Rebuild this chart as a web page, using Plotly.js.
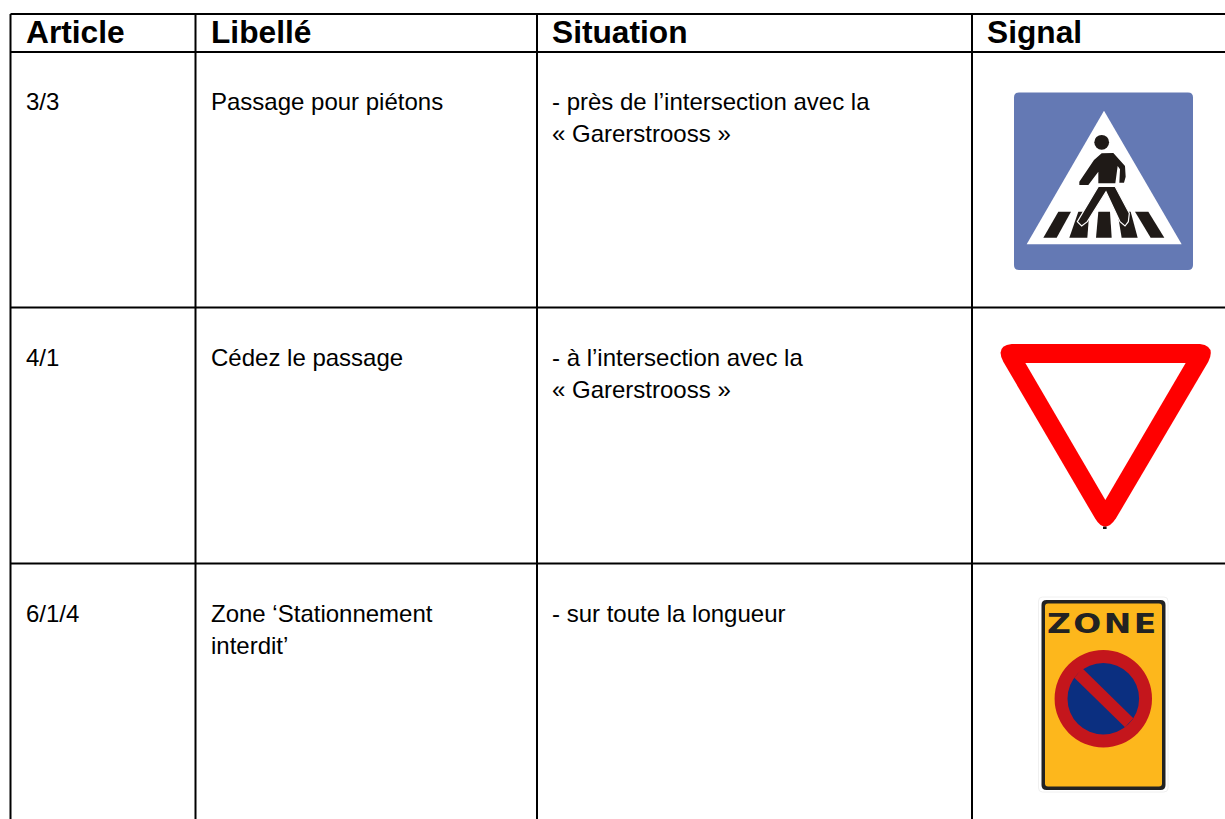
<!DOCTYPE html>
<html>
<head>
<meta charset="utf-8">
<script src="https://cdn.plot.ly/plotly-3.0.1.min.js"></script>
<style>
html,body{margin:0;padding:0;background:#fff;overflow:hidden}
#chart{width:1225px;height:819px}
</style>
</head>
<body>
<div id="chart"></div>
<script>
// Table content
const headers = ["Article", "Libellé", "Situation", "Signal"];
const articles = ["3/3", "4/1", "6/1/4"];
const libelles = [["Passage pour piétons"], ["Cédez le passage"], ["Zone ‘Stationnement", "interdit’"]];
const situations = [["- près de l’intersection avec la", "« Garerstrooss »"], ["- à l’intersection avec la", "« Garerstrooss »"], ["- sur toute la longueur"]];
const signWord = "ZONE";

// Layout of the table
const W = 1225, H = 819;
const colLines = [10.5, 195.5, 537, 972];
const rowLines = [14, 52, 307.5, 563.5];
const textX = [26, 211, 552, 987];
const firstLineY = [101, 357, 613];
const lineGap = 32;

const shapes = [];
const annotations = [];

function addLine(x0, y0, x1, y1) {
  shapes.push({type: "line", xref: "x", yref: "y", x0, y0, x1, y1, line: {color: "#000", width: 2}});
}
function addPath(path, fill, stroke, sw) {
  shapes.push({type: "path", xref: "x", yref: "y", path, fillcolor: fill, line: {color: stroke || fill, width: sw === undefined ? 0 : sw}});
}
function addDisc(cx, cy, r, fill) {
  shapes.push({type: "circle", xref: "x", yref: "y", x0: cx - r, x1: cx + r, y0: cy - r, y1: cy + r, fillcolor: fill, line: {width: 0}});
}
function roundRect(x0, y0, x1, y1, r) {
  return `M${x0 + r},${y0} L${x1 - r},${y0} Q${x1},${y0} ${x1},${y0 + r} L${x1},${y1 - r} Q${x1},${y1} ${x1 - r},${y1} L${x0 + r},${y1} Q${x0},${y1} ${x0},${y1 - r} L${x0},${y0 + r} Q${x0},${y0} ${x0 + r},${y0} Z`;
}
// Sign outlines, measured in a local 3x frame with an origin
function poly(ox, oy, pts) {
  return "M" + pts.map(p => `${ox + p[0] / 3},${oy + p[1] / 3}`).join(" L") + " Z";
}
function addText(x, y, text, size, bold) {
  annotations.push({
    xref: "x", yref: "y", x, y, text, showarrow: false, xanchor: "left", yanchor: "middle",
    borderpad: 0, borderwidth: 0,
    font: {family: "Liberation Sans", size, color: "#000", weight: bold ? 700 : 400}
  });
}

// Grid
rowLines.forEach(y => addLine(colLines[0], y, W, y));
colLines.forEach(x => addLine(x, rowLines[0], x, H));

// Text
headers.forEach((h, i) => addText(textX[i], 32, "<b>" + h + "</b>", 31.7, true));
articles.forEach((a, r) => addText(textX[0], firstLineY[r], a, 24));
libelles.forEach((ls, r) => ls.forEach((t, k) => addText(textX[1], firstLineY[r] + k * lineGap, t, 24)));
situations.forEach((ls, r) => ls.forEach((t, k) => addText(textX[2], firstLineY[r] + k * lineGap, t, 24)));

// Sign 1: pedestrian crossing
addPath(roundRect(1014, 92.5, 1193, 270, 5), "#6479b4");
addPath(poly(1000, 80, [[312, 92], [545, 493], [80, 493]]), "#ffffff");
const ink = "#1f1a17";
[
  [[175, 395], [213, 395], [170, 473], [130, 473]],
  [[235, 395], [268, 395], [262, 473], [208, 473]],
  [[295, 395], [330, 395], [335, 473], [288, 473]],
  [[352, 395], [392, 395], [413, 473], [365, 473]],
  [[405, 395], [445, 395], [493, 473], [452, 473]]
].forEach(s => addPath(poly(1000, 80, s), ink));
addPath(poly(1000, 80, [[295, 319], [345, 319], [388, 400], [385, 425], [375, 438], [360, 425], [318, 335], [262, 425], [245, 438], [232, 425]]), ink, "#ffffff", 1.2);
addDisc(1101.7, 142.3, 7.4, ink);
addPath(poly(1070, 130, [[95, 70], [130, 69], [165, 108], [167, 140], [162, 158], [148, 158], [150, 118], [143, 108], [136, 160], [85, 160], [85, 125], [55, 165], [28, 165], [28, 155], [72, 90]]), ink);

// Sign 2: give way
addPath(`M1011.7,344 L1200,344 Q1216,346 1208.3,361.7 L1116,518.3 Q1105,535 1095,518.3 L1003.3,361.7 Q995,346 1011.7,344 Z`, "#ff0000");
addPath(poly(990, 330, [[106, 99], [587, 99], [346, 510]]), "#ffffff");
addPath("M1103,526.6 L1106.6,526.6 L1106.6,529 L1103,529 Z", "#111111");

// Sign 3: zone no parking
addPath(roundRect(1038.5, 597, 1168, 792, 4), "#ffffff", "#f0f0f0", 1);
addPath(roundRect(1041.5, 600, 1165.5, 790, 5), "#222222");
addPath(roundRect(1045, 603.5, 1162, 786.5, 3), "#fdb71c");
addDisc(1103.3, 698.7, 48.7, "#c4161c");
addDisc(1103.3, 698.7, 35.8, "#0b2f80");
addPath(poly(1020, 590, [[187, 235], [340, 385], [315, 412], [163, 263]]), "#c4161c");
annotations.push({
  xref: "x", yref: "y", x: 1102.5, y: 623.5, text: "<b>" + signWord + "</b>", showarrow: false,
  xanchor: "center", yanchor: "middle",
  font: {family: "DejaVu Sans", size: 27, color: "#222222", weight: 700}
});

const layout = {
  width: W, height: H,
  margin: {l: 0, r: 0, t: 0, b: 0},
  paper_bgcolor: "#fff", plot_bgcolor: "#fff",
  xaxis: {range: [0, W], visible: false, fixedrange: true},
  yaxis: {range: [H, 0], visible: false, fixedrange: true},
  showlegend: false, shapes, annotations
};
const trace = {type: "scatter", x: [], y: [], mode: "markers", hoverinfo: "skip"};
const st = document.createElement("style");
st.textContent = `.annotation[data-index="${annotations.length - 1}"] text{letter-spacing:2px;transform-box:fill-box;transform-origin:center;transform:scaleX(1.22)}`;
document.head.appendChild(st);
Plotly.newPlot("chart", [trace], layout, {displayModeBar: false, staticPlot: true});
</script>
</body>
</html>
